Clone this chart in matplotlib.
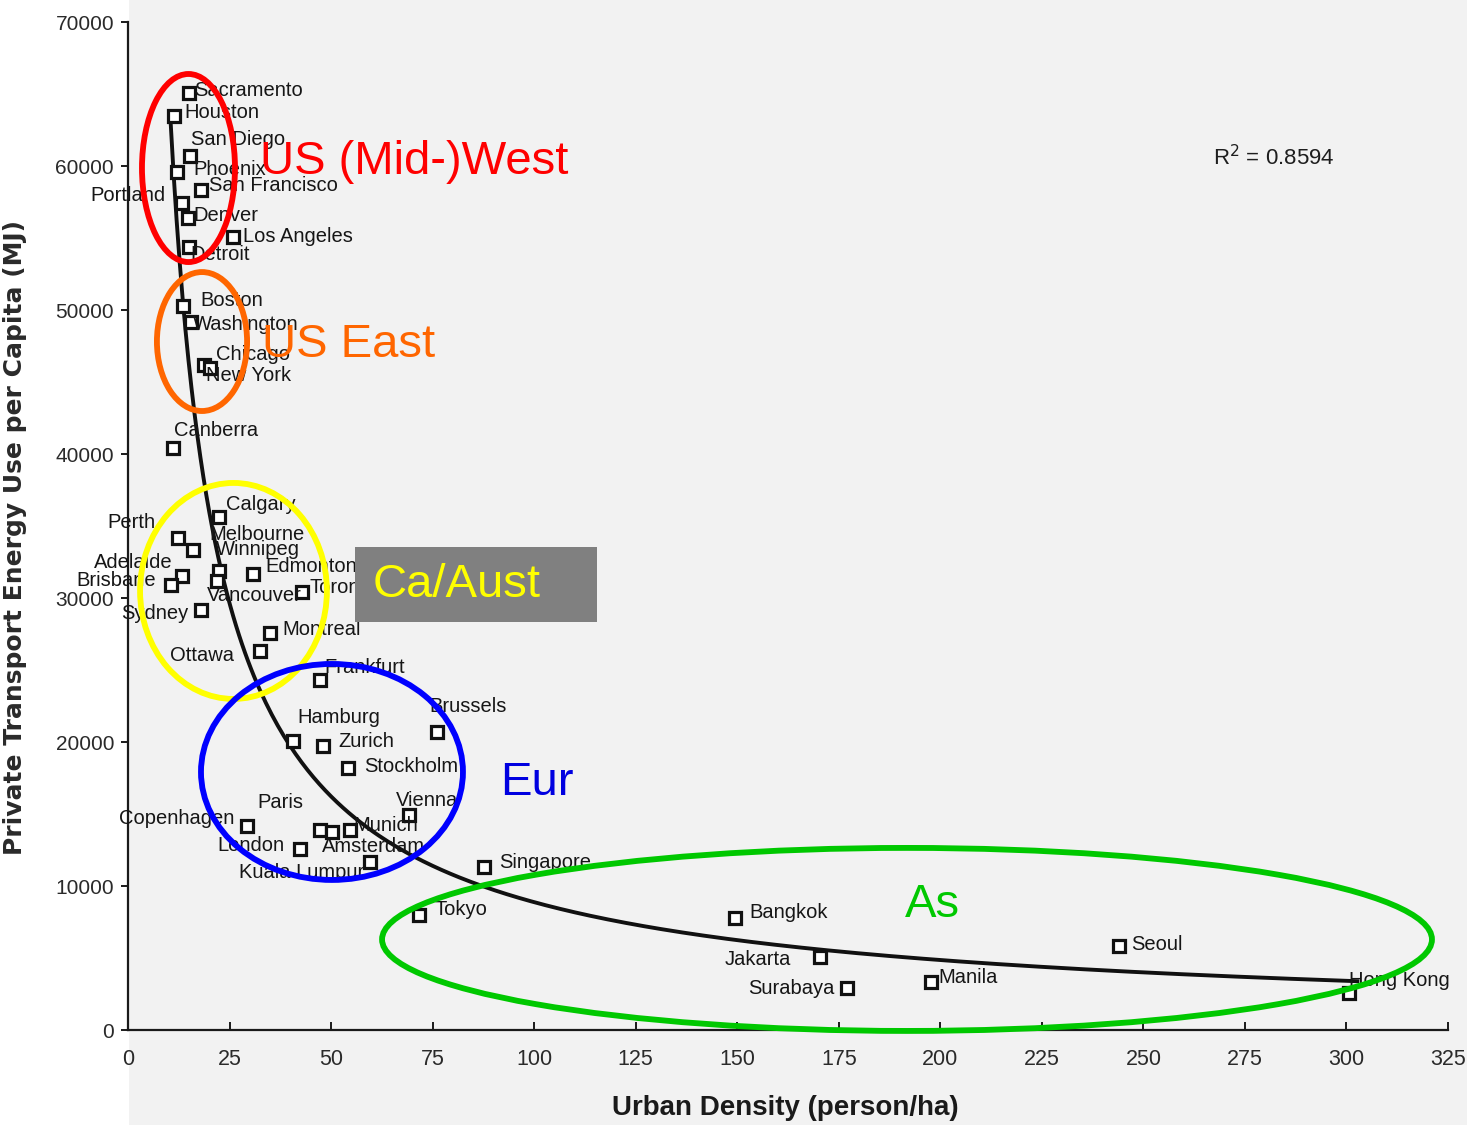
import numpy as np
import matplotlib
matplotlib.use("Agg")
import matplotlib.pyplot as plt
from matplotlib.patches import Ellipse, Rectangle

plt.rcParams['font.family'] = ['Liberation Sans', 'DejaVu Sans']

# --- data: urban density (persons/ha) vs private transport energy (MJ/capita)
cities = [
    "Sacramento", "Houston", "San Diego", "Phoenix", "San Francisco", "Portland",
    "Denver", "Los Angeles", "Detroit", "Boston", "Washington", "Chicago",
    "New York", "Canberra", "Calgary", "Perth", "Melbourne", "Winnipeg",
    "Edmonton", "Adelaide", "Brisbane", "Vancouver", "Toronto", "Sydney",
    "Montreal", "Ottawa", "Frankfurt", "Brussels", "Hamburg", "Zurich",
    "Stockholm", "Vienna", "Copenhagen", "Paris", "Amsterdam", "Munich",
    "London", "Kuala Lumpur", "Singapore", "Tokyo", "Bangkok", "Jakarta",
    "Surabaya", "Manila", "Seoul", "Hong Kong",
]
density = [
    14.9, 11.3, 15.2, 12.0, 17.9, 13.2,
    14.7, 25.9, 14.9, 13.5, 15.4, 18.6,
    20.3, 11.0, 22.3, 12.2, 15.9, 22.3,
    30.8, 13.2, 10.5, 22.0, 42.8, 17.9,
    35.0, 32.5, 47.2, 76.1, 40.6, 48.0,
    54.1, 69.2, 29.4, 47.2, 50.2, 54.6,
    42.3, 59.5, 87.6, 71.7, 149.5, 170.5,
    177.1, 197.7, 243.9, 300.7,
]
energy = [
    65100, 63500, 60700, 59600, 58300, 57400,
    56400, 55100, 54400, 50300, 49200, 46200,
    46000, 40400, 35600, 34200, 33300, 31900,
    31700, 31500, 30900, 31200, 30400, 29200,
    27600, 26300, 24300, 20700, 20100, 19700,
    18200, 14900, 14200, 13900, 13750, 13900,
    12600, 11700, 11300, 8000, 7800, 5100,
    2900, 3300, 5800, 2600,
]
r_squared_label = "R$^2$ = 0.8594"

x_ticks = [0, 25, 50, 75, 100, 125, 150, 175, 200, 225, 250, 275, 300, 325]
y_ticks = [0, 10000, 20000, 30000, 40000, 50000, 60000, 70000]

# label placement: (dx, dy) in pixels from the marker, horizontal alignment
label_offsets = {
    "Sacramento": (6, 2, "left"), "Houston": (10, 3, "left"),
    "San Diego": (1, 16, "left"), "Phoenix": (17, 2, "left"),
    "San Francisco": (8, 5, "left"), "Portland": (-16, 8, "right"),
    "Denver": (6, 2, "left"), "Los Angeles": (10, 0, "left"),
    "Detroit": (2, -8, "left"), "Boston": (18, 5, "left"),
    "Washington": (2, -3, "left"), "Chicago": (12, 10, "left"),
    "New York": (-4, -8, "left"), "Canberra": (1, 18, "left"),
    "Calgary": (7, 13, "left"), "Perth": (-22, 15, "right"),
    "Melbourne": (17, 16, "left"), "Winnipeg": (-3, 21, "left"),
    "Edmonton": (12, 7, "left"), "Adelaide": (-9, 14, "right"),
    "Brisbane": (-15, 5, "right"), "Vancouver": (-10, -15, "left"),
    "Toronto": (8, 5, "left"), "Sydney": (-12, -4, "right"),
    "Montreal": (12, 3, "left"), "Ottawa": (-26, -4, "right"),
    "Frankfurt": (5, 13, "left"), "Brussels": (-8, 25, "left"),
    "Hamburg": (4, 23, "left"), "Zurich": (15, 5, "left"),
    "Stockholm": (16, 1, "left"), "Vienna": (-13, 15, "left"),
    "Copenhagen": (-13, 7, "right"), "Paris": (-62, 27, "left"),
    "Amsterdam": (-10, -14, "left"), "Munich": (4, 4, "left"),
    "London": (-15, 3, "right"), "Kuala Lumpur": (-5, -11, "right"),
    "Singapore": (15, 5, "left"), "Tokyo": (15, 5, "left"),
    "Bangkok": (14, 5, "left"), "Jakarta": (-29, -3, "right"),
    "Surabaya": (-13, 0, "right"), "Manila": (7, 5, "left"),
    "Seoul": (13, 2, "left"), "Hong Kong": (0, 12, "left"),
}

# --- figure
W, H = 1467, 1125
fig = plt.figure(figsize=(W / 100, H / 100), dpi=100)
fig.patch.set_facecolor("white")
fig.add_artist(Rectangle((129 / W, 0), 1, 1, transform=fig.transFigure,
                         facecolor="#f2f2f2", edgecolor="none", zorder=-10))

ax = fig.add_axes([128 / W, 95 / H, 1320 / W, 1008 / H])
ax.set_facecolor("none")
ax.set_xlim(0, 325)
ax.set_ylim(0, 70000)

for s in ("top", "right"):
    ax.spines[s].set_visible(False)
for s in ("left", "bottom"):
    ax.spines[s].set_linewidth(1.6)
    ax.spines[s].set_color("#1a1a1a")

ax.set_xticks(x_ticks)
ax.set_yticks(y_ticks)
ax.set_xticklabels([str(v) for v in x_ticks], fontsize=15.5)
ax.set_yticklabels([str(v) for v in y_ticks], fontsize=15)
ax.tick_params(axis="x", direction="in", length=6, width=1.4, pad=14,
               colors="#1a1a1a", labelcolor="#2a2a2a")
ax.tick_params(axis="y", direction="out", length=5, width=1.4, pad=5,
               colors="#1a1a1a", labelcolor="#2a2a2a")

# power-law trend line fitted in log-log space
xd = np.array(density)
yd = np.array(energy, dtype=float)
b, ln_a = np.polyfit(np.log(xd), np.log(yd), 1)
xf = np.linspace(xd.min(), xd.max() + 2, 400)
ax.plot(xf, np.exp(ln_a) * xf ** b, color="#111111", lw=2.8, zorder=3)

ax.plot(density, energy, linestyle="none", marker="s", markersize=9,
        markerfacecolor="white", markeredgecolor="#111111", markeredgewidth=2.3,
        zorder=4)

for name, xv, yv in zip(cities, density, energy):
    dx, dy, ha = label_offsets[name]
    ax.annotate(name, (xv, yv), xytext=(dx, dy), textcoords="offset pixels",
                ha=ha, va="center", fontsize=14.5, color="#161616", zorder=5)

ax.text(267.1, 60600, r_squared_label, fontsize=16, color="#1e1e1e",
        ha="left", va="center")

# group outlines
groups = [
    ((14.89, 59860), 22.9, 13060, "#ff0000"),
    ((18.22, 47810), 22.2, 9650, "#ff6600"),
    ((25.97, 30490), 46.0, 15000, "#ffff00"),
    ((50.22, 17920), 64.5, 15000, "#0000ff"),
    ((191.8, 6290), 258.5, 12710, "#00c800"),
]
for center, w, h, col in groups:
    ax.add_patch(Ellipse(center, w, h, fill=False, edgecolor=col, lw=4.2,
                         zorder=6, clip_on=False))

ax.text(32.5, 60280, "US (Mid-)West", color="#ff0000", fontsize=34,
        ha="left", va="center", zorder=7)
ax.text(33.0, 47570, "US East", color="#ff6600", fontsize=34,
        ha="left", va="center", zorder=7)
ax.add_patch(Rectangle((55.9, 28330), 59.6, 5210, facecolor="#808080",
                       edgecolor="none", zorder=6))
ax.text(60.3, 30900, "Ca/Aust", color="#ffff00", fontsize=34,
        ha="left", va="center", zorder=7)
ax.text(91.6, 17150, "Eur", color="#0000e0", fontsize=34,
        ha="left", va="center", zorder=7)
ax.text(191.3, 8680, "As", color="#00c800", fontsize=34,
        ha="left", va="center", zorder=7)

fig.text(785 / W, 1 - 1108 / H, "Urban Density (person/ha)", fontsize=20,
         fontweight="bold", color="#1a1a1a", ha="center", va="center")
fig.text(15 / W, 1 - 537 / H, "Private Transport Energy Use per Capita (MJ)",
         fontsize=18, fontweight="bold", family="DejaVu Sans", color="#2a2a2a",
         rotation=90, ha="center", va="center")

fig.savefig("out.png", dpi=100)
